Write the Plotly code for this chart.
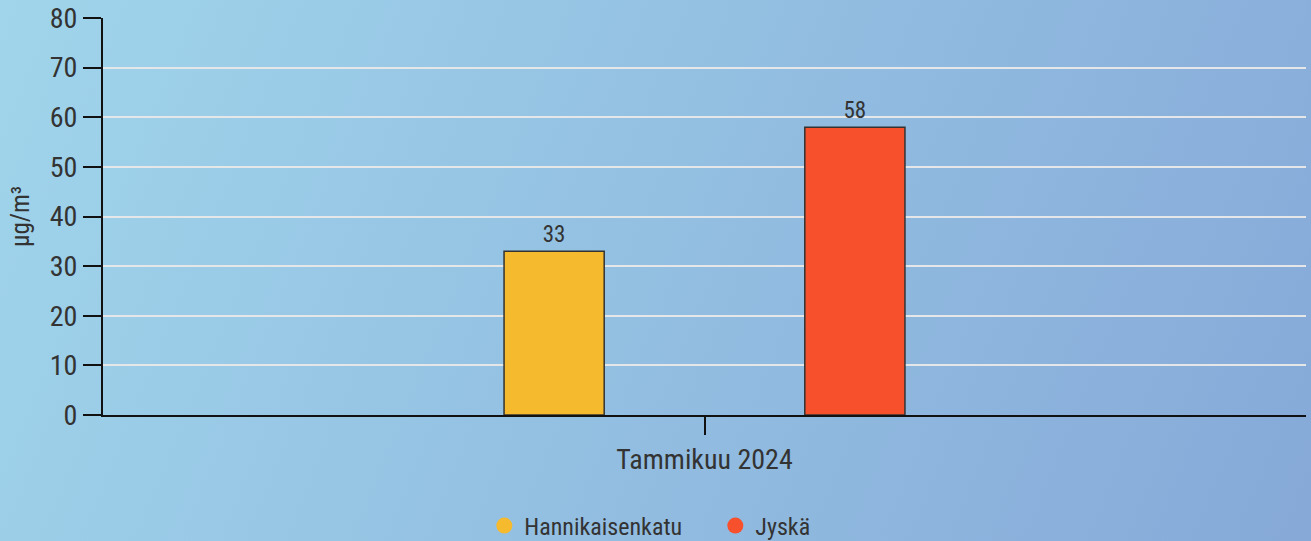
import base64
import plotly.graph_objects as go

categories = ["Tammikuu 2024"]
series_names = ["Hannikaisenkatu", "Jyskä"]
series_values = [[33], [58]]
series_colors = ["#F6BA2E", "#F6502C"]
y_ticks = [0, 10, 20, 30, 40, 50, 60, 70, 80]
y_title = "µg/m³"

W, H = 1311, 541
ML, MR, MT, MB = 103, 5, 18, 126
PW, PH = W - ML - MR, H - MT - MB

FONT = "Roboto Condensed, Liberation Sans Narrow, DejaVu Sans Condensed, Roboto, sans-serif"
TXT = "#333333"

svg = (
    '<svg xmlns="http://www.w3.org/2000/svg" width="1311" height="541" viewBox="0 0 1311 541" preserveAspectRatio="none">'
    '<defs><linearGradient id="g" x1="0" y1="0" x2="1311" y2="541" gradientUnits="userSpaceOnUse">'
    '<stop offset="0" stop-color="#A0D5EB"/><stop offset="1" stop-color="#86A9D8"/>'
    '</linearGradient></defs><rect width="1311" height="541" fill="url(#g)"/></svg>'
)
src = "data:image/svg+xml;base64," + base64.b64encode(svg.encode()).decode()

fig = go.Figure()
for name, vals, col in zip(series_names, series_values, series_colors):
    fig.add_trace(go.Bar(
        x=categories, y=vals, name=name, marker=dict(color=col, line=dict(color="#333333", width=1.5)),
        text=[str(v) for v in vals], textposition="outside", cliponaxis=False,
        textfont=dict(family=FONT, size=23, color=TXT), showlegend=False,
    ))
for name, col in zip(series_names, series_colors):
    fig.add_trace(go.Scatter(
        x=[None], y=[None], mode="markers", name=name,
        marker=dict(symbol="circle", size=22, color=col), showlegend=True,
    ))

fig.update_layout(
    width=W, height=H,
    margin=dict(l=ML, r=MR, t=MT, b=MB, autoexpand=False),
    paper_bgcolor="#93BEE1", plot_bgcolor="rgba(0,0,0,0)",
    barmode="group", bargap=0.5, bargroupgap=0.667,
    font=dict(family=FONT, color=TXT, size=28),
    images=[dict(source=src, xref="paper", yref="paper",
                 x=-ML / PW, y=1 + MT / PH, sizex=W / PW, sizey=H / PH,
                 xanchor="left", yanchor="top", sizing="stretch", layer="below")],
    legend=dict(orientation="h", x=0.509, xanchor="center", xref="paper",
                y=1 - 526 / H, yanchor="middle", yref="container",
                font=dict(family=FONT, size=24, color=TXT), bgcolor="rgba(0,0,0,0)",
                itemsizing="trace", traceorder="normal", entrywidth=186),
    showlegend=True,
)
fig.update_xaxes(
    type="category", showgrid=False, showline=True, linecolor="#111111", linewidth=2,
    ticks="outside", ticklen=18, tickwidth=2, tickcolor="#111111",
    tickfont=dict(family=FONT, size=28, color=TXT), zeroline=False,
)
fig.update_yaxes(
    range=[0, 80], tickvals=y_ticks, showgrid=True, gridcolor="#E4E6E8", gridwidth=2,
    showline=True, linecolor="#111111", linewidth=2, zeroline=False,
    ticks="outside", ticklen=18, tickwidth=2, tickcolor="#111111",
    tickfont=dict(family=FONT, size=28, color=TXT),
    title=dict(text=y_title, font=dict(family=FONT, size=25, color=TXT), standoff=13),
)

fig.write_html("out.html", config={"displayModeBar": False},
               post_script="document.body.style.margin='0';document.body.style.padding='0';")
